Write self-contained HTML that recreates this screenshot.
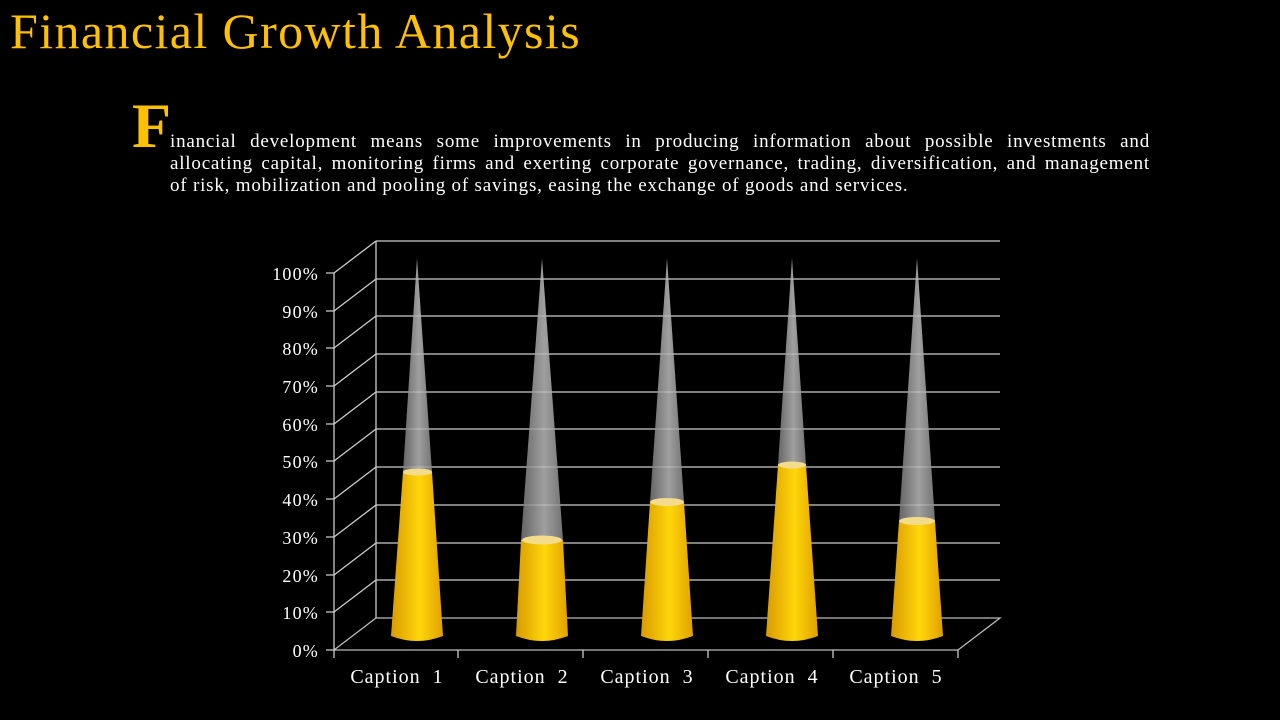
<!DOCTYPE html>
<html><head><meta charset="utf-8"><style>
body{margin:0;width:1280px;height:720px;background:#000;overflow:hidden;position:relative;font-family:"Liberation Serif",serif}
h1{position:absolute;left:10px;top:2px;margin:0;font-weight:normal;font-size:50px;color:#FFC000;letter-spacing:1.4px;white-space:nowrap}
.cap{position:absolute;left:132px;top:94px;font-size:64px;font-weight:bold;color:#FFC000;line-height:1}
.p{position:absolute;left:170px;top:131px;width:980px;font-size:19px;line-height:22px;color:#fff;letter-spacing:0.8px}
.p div{text-align:justify;text-align-last:justify;white-space:nowrap}
.p div.l{text-align-last:left}
svg{position:absolute;left:0;top:0}
</style></head><body>
<h1>Financial Growth Analysis</h1>
<div class="cap">F</div>
<div class="p"><div>inancial development means some improvements in producing information about possible investments and</div><div>allocating capital, monitoring firms and exerting corporate governance, trading, diversification, and management</div><div class="l">of risk, mobilization and pooling of savings, easing the exchange of goods and services.</div></div>
<svg width="1280" height="720" xmlns="http://www.w3.org/2000/svg">
<defs>
<linearGradient id="y" x1="0" x2="1"><stop offset="0" stop-color="#d99a00"/><stop offset="0.55" stop-color="#ffd60a"/><stop offset="1" stop-color="#e0a000"/></linearGradient>
<linearGradient id="g" x1="0" x2="1"><stop offset="0" stop-color="#777"/><stop offset="0.55" stop-color="#bbb"/><stop offset="1" stop-color="#888"/></linearGradient>
</defs>
<g stroke="#ccc" stroke-width="1.3" fill="none">
<path d="M334 650 L376 618 L1000 618 L958 650 Z" stroke="#bbb"/>
<path d="M376 241 L1000 241 M376 279 L1000 279 M376 316 L1000 316 M376 354 L1000 354 M376 392 L1000 392 M376 429 L1000 429 M376 467 L1000 467 M376 505 L1000 505 M376 543 L1000 543 M376 580 L1000 580 M376 241 L376 618"/>
<path d="M334 273 L376 241 M334 311 L376 279 M334 348 L376 316 M334 386 L376 354 M334 424 L376 392 M334 461 L376 429 M334 499 L376 467 M334 537 L376 505 M334 575 L376 543 M334 612 L376 580"/>
<path d="M334 273 L334 658 M326 273 L334 273 M326 311 L334 311 M326 348 L334 348 M326 386 L334 386 M326 424 L334 424 M326 461 L334 461 M326 499 L334 499 M326 537 L334 537 M326 575 L334 575 M326 612 L334 612 M326 650 L334 650 M458 650 L458 658 M583 650 L583 658 M708 650 L708 658 M833 650 L833 658 M958 650 L958 658"/>
</g>
<g font-size="18" fill="#fff" text-anchor="end" letter-spacing="1.2">
<text x="319" y="280">100%</text><text x="319" y="318">90%</text><text x="319" y="355">80%</text><text x="319" y="393">70%</text><text x="319" y="431">60%</text><text x="319" y="468">50%</text><text x="319" y="506">40%</text><text x="319" y="544">30%</text><text x="319" y="582">20%</text><text x="319" y="619">10%</text><text x="319" y="657">0%</text>
</g>
<g font-size="20" fill="#fff" text-anchor="middle" letter-spacing="1">
<text x="397" y="683" xml:space="preserve">Caption  1</text><text x="522" y="683" xml:space="preserve">Caption  2</text><text x="647" y="683" xml:space="preserve">Caption  3</text><text x="772" y="683" xml:space="preserve">Caption  4</text><text x="896" y="683" xml:space="preserve">Caption  5</text>
</g>
<g>
<path d="M417 258 L432 472 L403 472 Z" fill="url(#g)" opacity="0.85"/>
<path d="M403 472 L432 472 L443 636 Q417 646 391 636 Z" fill="url(#y)"/>
<ellipse cx="417.5" cy="472" rx="14.5" ry="3.5" fill="#f3dc8c"/>
<path d="M542 258 L563 540 L521 540 Z" fill="url(#g)" opacity="0.85"/>
<path d="M521 540 L563 540 L568 636 Q542 646 516 636 Z" fill="url(#y)"/>
<ellipse cx="542" cy="540" rx="20" ry="4.5" fill="#f3dc8c"/>
<path d="M667 258 L684 502 L650 502 Z" fill="url(#g)" opacity="0.85"/>
<path d="M650 502 L684 502 L693 636 Q667 646 641 636 Z" fill="url(#y)"/>
<ellipse cx="667" cy="502" rx="17" ry="4" fill="#f3dc8c"/>
<path d="M792 258 L806 465 L778 465 Z" fill="url(#g)" opacity="0.85"/>
<path d="M778 465 L806 465 L818 636 Q792 646 766 636 Z" fill="url(#y)"/>
<ellipse cx="792" cy="465" rx="14" ry="3.5" fill="#f3dc8c"/>
<path d="M917 258 L935 521 L899 521 Z" fill="url(#g)" opacity="0.85"/>
<path d="M899 521 L935 521 L943 636 Q917 646 891 636 Z" fill="url(#y)"/>
<ellipse cx="917" cy="521" rx="18" ry="4" fill="#f3dc8c"/>
</g>
</svg>
</body></html>
